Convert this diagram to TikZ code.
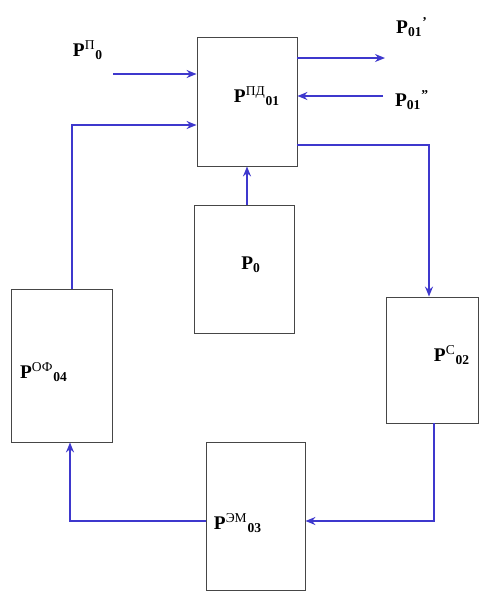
\documentclass[tikz,border=0pt]{standalone}
\usepackage{fontspec}
\setmainfont{Liberation Serif}
\usepackage{tikz}
\usepackage{xcolor}
\usetikzlibrary{positioning,calc,arrows.meta}
\definecolor{flowblue}{RGB}{62,56,205}
\definecolor{boxgray}{RGB}{70,70,70}

\newcommand{\pw}[2]{\textbf{P}\textsuperscript{#1}\textsubscript{\textbf{#2}}}

\begin{document}
\begin{tikzpicture}[
    x=0.02cm, y=-0.02cm,
    block/.style={rectangle, draw=boxgray, line width=0.5pt, inner sep=0pt},
    lbl/.style={inner sep=0pt, font=\fontsize{11}{13}\selectfont},
    arrow/.style={-{Stealth[length=2mm,width=1.6mm]}, line width=0.8pt, draw=flowblue}
]
\useasboundingbox (0,0) rectangle (480,592);

% blocks
\node[block, minimum width=2cm, minimum height=2.58cm] (pd) at (247,101.5) {};
\node[block, minimum width=2cm, minimum height=2.56cm] (p0) at (244,269) {};
\node[block, minimum width=2.02cm, minimum height=3.06cm] (of) at (61.5,365.5) {};
\node[block, minimum width=1.84cm, minimum height=2.52cm] (c) at (432,360) {};
\node[block, minimum width=1.98cm, minimum height=2.96cm] (em) at (255.5,516) {};

% labels
\node[lbl] (lpd) at (257,96) {\pw{ПД}{01}};
\node[lbl] (lp0) at (251,265) {\textbf{P}\textsubscript{\textbf{0}}};
\node[lbl] (lof) at (44,372) {\pw{ОФ}{04}};
\node[lbl] (lc) at (452,355) {\pw{С}{02}};
\node[lbl] (lem) at (238,523) {\pw{ЭМ}{03}};
\node[lbl] (lin) at (88,50) {\pw{П}{0}};
\node[lbl] (lout1) at (412,27) {\textbf{P}\textsubscript{\textbf{01}}\textsuperscript{\textbf{'}}};
\node[lbl] (lout2) at (412,100) {\textbf{P}\textsubscript{\textbf{01}}\textsuperscript{\textbf{''}}};

% free ends and bends
\coordinate (pin) at (113,74);
\coordinate (pout1) at (385,58);
\coordinate (pin2) at (383,96);
\coordinate (fb) at (72,125);
\coordinate (rc) at (429,145);
\coordinate (bc) at (434,521);
\coordinate (bl) at (70,521);

\draw[arrow] (pin) -- (pd.west |- pin);
\draw[arrow] (pd.east |- pout1) -- (pout1);
\draw[arrow] (pin2) -- (pd.east |- pin2);
\draw[arrow] (p0.north -| pd.south) -- (pd.south);
\draw[arrow] (pd.east |- rc) -| (c.north -| rc);
\draw[arrow] (c.south -| bc) |- (em.east |- bc);
\draw[arrow] (em.west |- bl) -| (of.south -| bl);
\draw[arrow] (of.north -| fb) |- (pd.west |- fb);

\end{tikzpicture}
\end{document}
